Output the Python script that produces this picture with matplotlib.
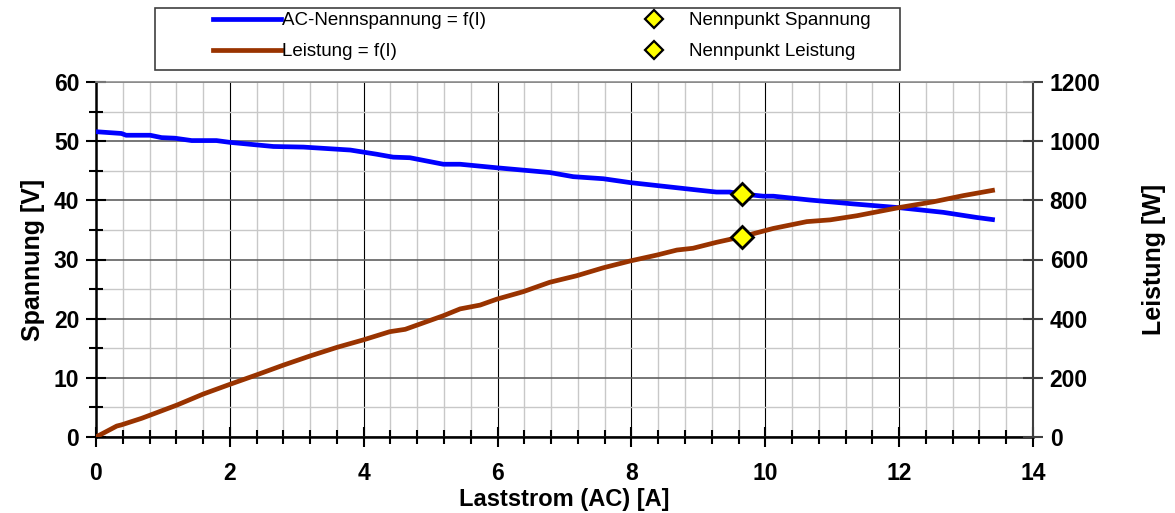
import matplotlib
matplotlib.use("Agg")
import matplotlib.pyplot as plt
from matplotlib.ticker import MultipleLocator
from matplotlib.lines import Line2D
from matplotlib.patches import Rectangle

# ---- data ----
current_v = [0.0, 0.38, 0.45, 0.81, 0.98, 1.18, 1.43, 1.8, 2.0, 2.65, 3.1, 3.8, 4.19,
             4.44, 4.69, 5.19, 5.44, 5.99, 6.78, 7.13, 7.58, 7.98, 8.78, 9.02, 9.27,
             9.47, 9.64, 9.97, 10.12, 10.67, 11.31, 12.01, 12.66, 13.16, 13.43]
voltage = [51.6, 51.3, 51.0, 51.0, 50.6, 50.5, 50.1, 50.1, 49.8, 49.1, 49.0, 48.5, 47.8,
           47.3, 47.2, 46.1, 46.1, 45.5, 44.7, 44.0, 43.65, 43.0, 42.0, 41.7, 41.4,
           41.4, 41.1, 40.7, 40.7, 40.05, 39.4, 38.75, 37.97, 37.1, 36.7]

current_p = [0.0, 0.31, 0.38, 0.68, 0.81, 1.21, 1.6, 2.0, 2.4, 2.8, 3.2, 3.6, 3.99, 4.39,
             4.62, 5.19, 5.44, 5.74, 5.99, 6.38, 6.78, 7.18, 7.58, 7.98, 8.38, 8.68,
             8.92, 9.27, 9.65, 10.12, 10.62, 10.97, 11.37, 12.01, 12.51, 12.96, 13.43]
power = [0, 37, 41, 63, 74, 108, 145, 178, 210, 243, 274, 303, 328, 356,
         364, 410, 433, 446, 466, 491, 523, 545, 572, 595, 615, 632,
         638, 658, 677, 705, 728, 734, 748, 776, 795, 816, 835]

rated_current = [9.65]
rated_voltage = [41.1]
rated_power = [677]

x_ticks = [0, 2, 4, 6, 8, 10, 12, 14]
v_ticks = [0, 10, 20, 30, 40, 50, 60]
p_ticks = [0, 200, 400, 600, 800, 1000, 1200]

BLUE = "#0000ff"
BROWN = "#993300"

plt.rcParams['font.family'] = ['Liberation Sans', 'DejaVu Sans']

W, H = 1175, 513
fig = plt.figure(figsize=(W / 100, H / 100), dpi=100)
ax = fig.add_axes([96 / W, 1 - 437 / H, (1033 - 96) / W, (437 - 82) / H])
ax2 = ax.twinx()

ax.set_xlim(0, 14)
ax.set_ylim(0, 60)
ax2.set_ylim(0, 1200)

ax.set_xticks(x_ticks)
ax.set_yticks(v_ticks)
ax2.set_yticks(p_ticks)
ax.xaxis.set_minor_locator(MultipleLocator(0.4))
ax.yaxis.set_minor_locator(MultipleLocator(5))
ax2.yaxis.set_minor_locator(MultipleLocator(1e9))

ax.grid(which='minor', color='#c8c8c8', linewidth=1.0, zorder=0)
ax.grid(which='major', axis='x', color='#000000', linewidth=0.8, zorder=0)
ax.grid(which='major', axis='y', color='#606060', linewidth=1.2, zorder=0)
ax.set_axisbelow(True)

ax.tick_params(axis='both', which='major', direction='inout', length=14, width=1.5,
               labelsize=16.5, pad=5)
ax.tick_params(axis='x', which='major', pad=11)
ax.tick_params(axis='both', which='minor', direction='inout', length=10, width=1.5)
ax2.tick_params(axis='y', which='major', direction='inout', length=14, width=1.5,
                labelsize=16.5, pad=5, color='#404040')
for lab in ax.get_xticklabels() + ax.get_yticklabels() + ax2.get_yticklabels():
    lab.set_fontweight('bold')

for s in ['left', 'bottom']:
    ax.spines[s].set_linewidth(1.8)
    ax.spines[s].set_color('black')
ax2.spines['right'].set_linewidth(1.5)
ax2.spines['right'].set_color('#404040')
ax2.spines['top'].set_color('#909090')
ax2.spines['top'].set_linewidth(1.2)
ax.spines['top'].set_visible(False)
ax.spines['right'].set_visible(False)
ax2.spines['left'].set_visible(False)
ax2.spines['bottom'].set_visible(False)

ax.set_xlabel('Laststrom (AC) [A]', fontsize=17, fontweight='bold', labelpad=2)
ax.set_ylabel('Spannung [V]', fontsize=18, fontweight='bold', labelpad=6)
ax2.set_ylabel('Leistung [W]', fontsize=18, fontweight='bold', labelpad=30)

ax.plot(current_v, voltage, color=BLUE, linewidth=3.4, solid_capstyle='butt', zorder=3)
ax2.plot(current_p, power, color=BROWN, linewidth=3.4, solid_capstyle='butt', zorder=3)
ax2.plot(rated_current, [v * 20 for v in rated_voltage], linestyle='none', marker='D',
         markersize=11, markerfacecolor='#ffff00', markeredgecolor='black',
         markeredgewidth=2, zorder=5)
ax2.plot(rated_current, rated_power, linestyle='none', marker='D',
         markersize=11, markerfacecolor='#ffff00', markeredgecolor='black',
         markeredgewidth=2, zorder=5)

# legend frame
fig.add_artist(Rectangle((155 / W, 1 - 70 / H), (900 - 155) / W, 62 / H,
                         transform=fig.transFigure, facecolor='white',
                         edgecolor='#404040', linewidth=1.2))

h_lines = [Line2D([], [], color=BLUE, linewidth=3.4),
           Line2D([], [], color=BROWN, linewidth=3.4)]
h_pts = [Line2D([], [], linestyle='none', marker='D', markersize=9,
                markerfacecolor='#ffff00', markeredgecolor='black', markeredgewidth=1.6)
         for _ in range(2)]
lkw = dict(frameon=False, fontsize=13.5, handlelength=3.6, handletextpad=0.1,
           labelspacing=0.75, borderpad=0, borderaxespad=0, loc='upper left')
fig.legend(h_lines, ['AC-Nennspannung = f(I)', 'Leistung = f(I)'],
           bbox_to_anchor=(213 / W, 1 - 12 / H), **lkw)
fig.legend(h_pts, ['Nennpunkt Spannung', 'Nennpunkt Leistung'],
           bbox_to_anchor=(620 / W, 1 - 12 / H), **lkw)

fig.savefig('out.png', dpi=100)
